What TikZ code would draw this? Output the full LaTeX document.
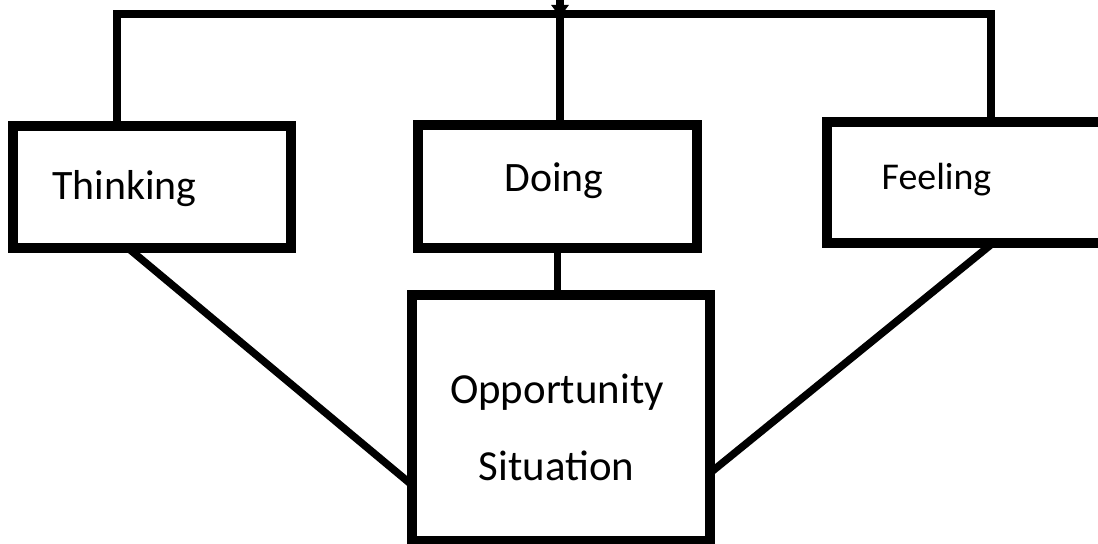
\documentclass[tikz,border=0pt]{standalone}
\usepackage{fontspec}
\setmainfont{Carlito}
\usetikzlibrary{calc,arrows.meta}
\tikzset{
  boxst/.style={draw=black, line width=9.5bp, fill=white, rectangle, outer sep=0pt, inner sep=0pt},
  conn/.style={draw=black, line width=7.5bp, line join=miter},
  lbl/.style={anchor=base, inner sep=0pt, outer sep=0pt, text=black}
}
\begin{document}
\begin{tikzpicture}[x=1bp, y=-1bp]
\useasboundingbox (0,0) rectangle (1098,544);
\clip (0,0) rectangle (1098,544);
% boxes
\node[boxst, minimum width=278bp, minimum height=122bp] (think) at (152,187) {};
\node[boxst, minimum width=279bp, minimum height=123bp] (doing) at (557.5,186.5) {};
\node[boxst, minimum width=283bp, minimum height=121bp] (feel) at (968.5,182.5) {};
\node[boxst, minimum width=298bp, minimum height=246bp] (opp) at (561,418) {};
% labels
\node[lbl, font=\fontsize{42}{50}\selectfont] (tthink) at (124.5,200) {Thinking};
\node[lbl, font=\fontsize{42}{50}\selectfont] (tdoing) at (554,192) {Doing};
\node[lbl, font=\fontsize{38}{46}\selectfont] (tfeel) at (936.5,190) {Feeling};
\node[lbl, font=\fontsize{43}{51}\selectfont] (topp1) at (557,403) {Opportunity};
\node[lbl, font=\fontsize{43}{51}\selectfont] (topp2) at (556.5,480) {Situation};
% connectors
\coordinate (topc) at (560,14);
\coordinate (src) at (560,-30);
\draw[conn] ([xshift=104bp]think.north west) |- (topc) -| ([xshift=164bp]feel.north west);
\draw[conn] (doing.north -| topc) -- (topc);
\draw[conn, -{Triangle[length=12bp, width=17bp]}, shorten >=-3bp] (src) -- (topc);
\draw[conn] (doing.south) -- (doing.south |- opp.north);
\draw[conn] ([xshift=115bp]think.south west) -- ([yshift=-190bp]opp.north west);
\draw[conn] ([xshift=166bp]feel.south west) -- ([yshift=-178bp]opp.north east);
\end{tikzpicture}
\end{document}
